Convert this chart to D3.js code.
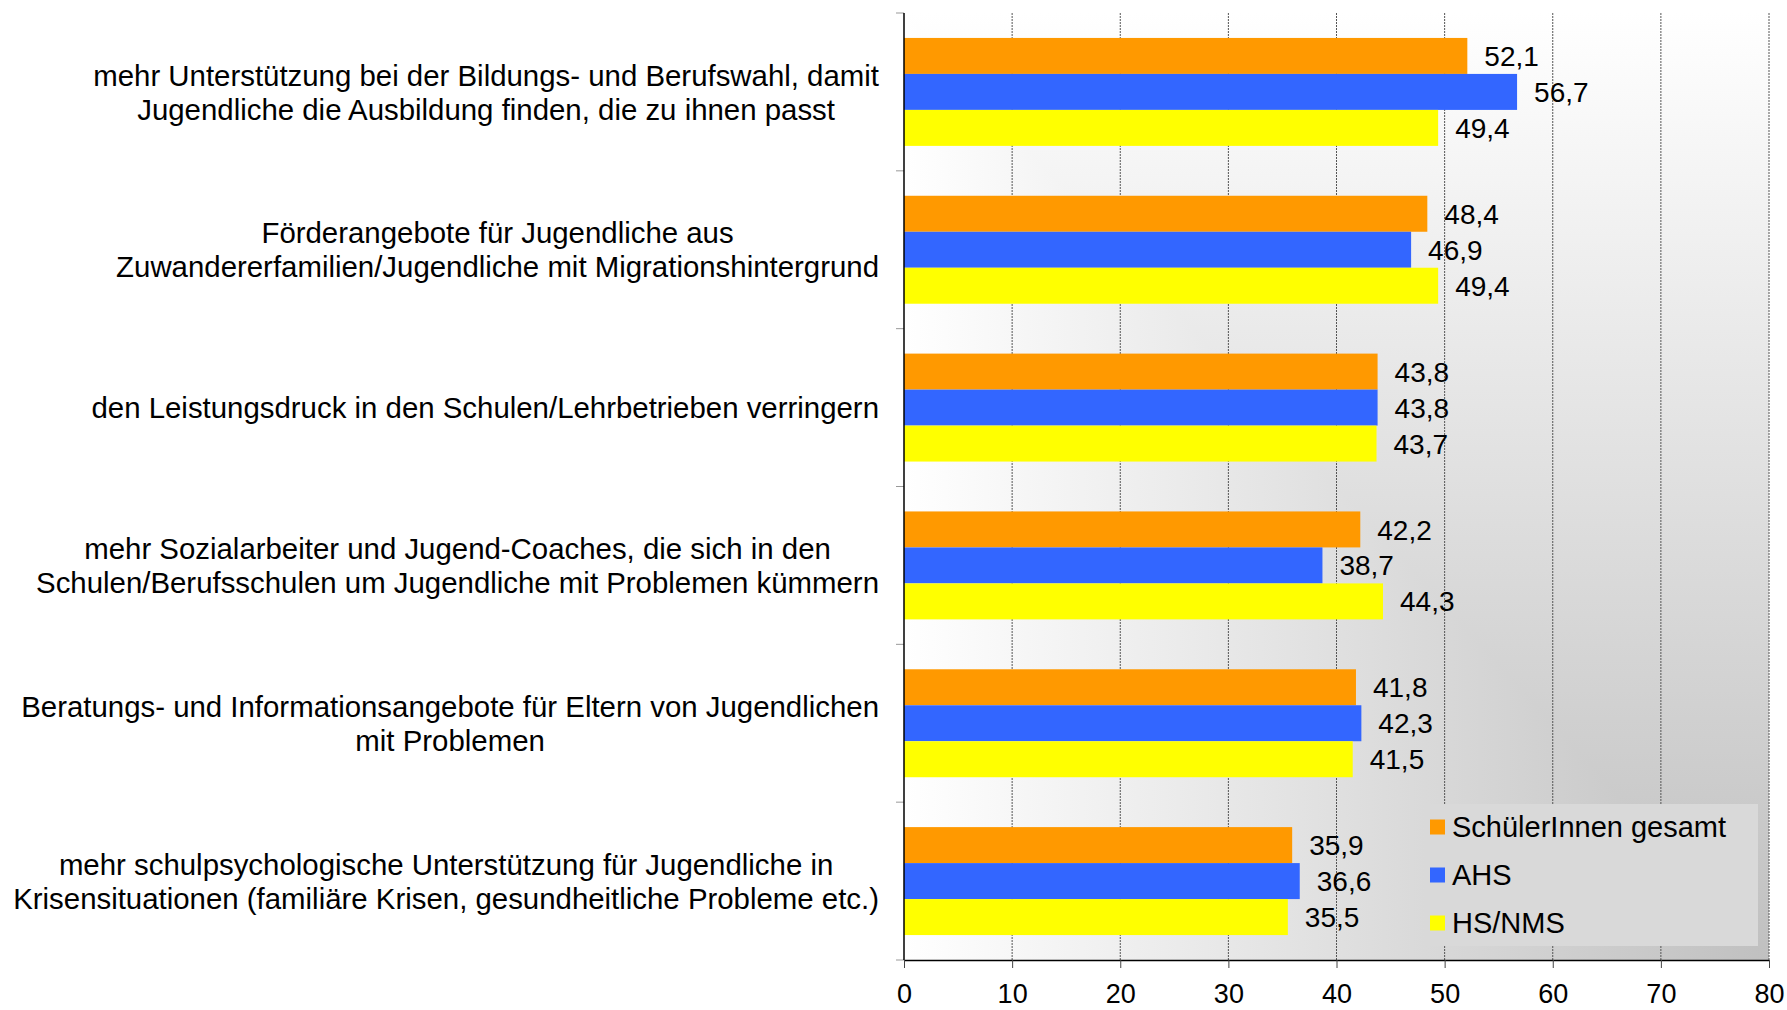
<!DOCTYPE html>
<html lang="de">
<head>
	<meta charset="utf-8"/>
	<title>Maßnahmen für Jugendliche</title>
	<script src="https://d3js.org/d3.v7.min.js"></script>
	<style>
	body { margin: 0; background: #fff; }
	text { font-family: "Liberation Sans", Arial, sans-serif; fill: #000; }
	.grid line { stroke: #555; stroke-width: 1; stroke-dasharray: 2,1; }
	</style>
</head>
<body>
<svg id="chart" width="1787" height="1010"></svg>
<script>
// categories, each one split in its lines
var categories = [
	["mehr Unterstützung bei der Bildungs- und Berufswahl, damit", "Jugendliche die Ausbildung finden, die zu ihnen passt"],
	["Förderangebote für Jugendliche aus", "Zuwandererfamilien/Jugendliche mit Migrationshintergrund"],
	["den Leistungsdruck in den Schulen/Lehrbetrieben verringern"],
	["mehr Sozialarbeiter und Jugend-Coaches, die sich in den", "Schulen/Berufsschulen um Jugendliche mit Problemen kümmern"],
	["Beratungs- und Informationsangebote für Eltern von Jugendlichen", "mit Problemen"],
	["mehr schulpsychologische Unterstützung für Jugendliche in", "Krisensituationen (familiäre Krisen, gesundheitliche Probleme etc.)"]
];
var seriesNames = ["SchülerInnen gesamt", "AHS", "HS/NMS"];
var seriesColors = ["#ff9900", "#3366ff", "#ffff00"];
var gesamt = [52.1, 48.4, 43.8, 42.2, 41.8, 35.9];
var ahs    = [56.7, 46.9, 43.8, 38.7, 42.3, 36.6];
var hsnms  = [49.4, 49.4, 43.7, 44.3, 41.5, 35.5];
var xTicks = [0, 10, 20, 30, 40, 50, 60, 70, 80];

var values = [gesamt, ahs, hsnms];
var fmt = function(v) { return d3.format(".1f")(v).replace(".", ","); };

var svg = d3.select("#chart");
var pLeft = 904, pRight = 1769, pTop = 13, pBottom = 960;

var x = d3.scaleLinear().domain([0, 80]).range([pLeft, pRight]);
var y = d3.scaleBand()
	.domain(d3.range(categories.length))
	.range([pTop, pBottom])
	.paddingInner(0.316)
	.paddingOuter(0.158);
var ys = d3.scaleBand().domain(d3.range(seriesNames.length)).range([0, y.bandwidth()]);

// background: two gradients, the lighter one wins -> grey only towards bottom right
var defs = svg.append("defs");
var gh = defs.append("linearGradient").attr("id", "gh").attr("x1", "0%").attr("y1", "0%").attr("x2", "100%").attr("y2", "0%");
gh.append("stop").attr("offset", "0%").attr("stop-color", "#ffffff");
gh.append("stop").attr("offset", "100%").attr("stop-color", "#c0c0c0");
var gv = defs.append("linearGradient").attr("id", "gv").attr("x1", "0%").attr("y1", "0%").attr("x2", "0%").attr("y2", "100%");
gv.append("stop").attr("offset", "0%").attr("stop-color", "#ffffff");
gv.append("stop").attr("offset", "100%").attr("stop-color", "#c0c0c0");

var bg = svg.append("g").style("isolation", "isolate");
bg.append("rect").attr("x", pLeft).attr("y", pTop).attr("width", pRight - pLeft).attr("height", pBottom - pTop).attr("fill", "url(#gh)");
bg.append("rect").attr("x", pLeft).attr("y", pTop).attr("width", pRight - pLeft).attr("height", pBottom - pTop).attr("fill", "url(#gv)")
	.style("mix-blend-mode", "lighten");

// vertical grid lines
svg.append("g").attr("class", "grid")
	.selectAll("line")
	.data(xTicks.slice(1))
	.enter().append("line")
	.attr("x1", function(d) { return x(d); })
	.attr("x2", function(d) { return x(d); })
	.attr("y1", pTop)
	.attr("y2", pBottom);

// bars
var groups = svg.append("g")
	.selectAll("g")
	.data(categories)
	.enter().append("g")
	.attr("transform", function(d, i) { return "translate(0," + y(i) + ")"; });

groups.each(function(d, i) {
	var g = d3.select(this);
	values.forEach(function(s, j) {
		g.append("rect")
			.attr("x", x(0))
			.attr("y", ys(j))
			.attr("width", x(s[i]) - x(0))
			.attr("height", ys.bandwidth())
			.attr("fill", seriesColors[j]);
		g.append("text")
			.attr("x", x(s[i]) + 17)
			.attr("y", ys(j) + ys.bandwidth() / 2)
			.attr("dy", "0.36em")
			.attr("font-size", 28)
			.text(fmt(s[i]));
	});
});

// category labels: lines centred in a block which is right aligned
var labels = svg.append("g")
	.selectAll("text")
	.data(categories)
	.enter().append("text")
	.attr("font-size", 29.4)
	.attr("text-anchor", "middle");

labels.each(function(lines, i) {
	var t = d3.select(this);
	var cy = y(i) + y.bandwidth() / 2;
	lines.forEach(function(l, k) {
		t.append("tspan")
			.attr("y", cy + (k - (lines.length - 1) / 2) * 34)
			.attr("dy", "0.36em")
			.text(l);
	});
	var w = 0;
	t.selectAll("tspan").each(function() { w = Math.max(w, this.getComputedTextLength()); });
	t.selectAll("tspan").attr("x", 879 - w / 2);
});

// axes
var xAxis = svg.append("g")
	.attr("transform", "translate(0," + pBottom + ")")
	.call(d3.axisBottom(x).tickValues(xTicks).tickSize(8).tickPadding(16).tickSizeOuter(0));
xAxis.select(".domain").attr("stroke", "#000").attr("stroke-width", 1.5);
xAxis.selectAll(".tick line").attr("stroke", "#444");
xAxis.selectAll("text").attr("font-size", 27).attr("font-family", null).attr("fill", "#000");

var bounds = d3.range(categories.length + 1).map(function(i) { return pTop + i * y.step(); });
svg.append("g")
	.selectAll("line")
	.data(bounds)
	.enter().append("line")
	.attr("x1", pLeft - 8).attr("x2", pLeft)
	.attr("y1", function(d) { return d; }).attr("y2", function(d) { return d; })
	.attr("stroke", "#999").attr("stroke-width", 1);
svg.append("line")
	.attr("x1", pLeft).attr("x2", pLeft).attr("y1", pTop).attr("y2", pBottom)
	.attr("stroke", "#000").attr("stroke-width", 1.5);

// legend
var legend = svg.append("g").attr("transform", "translate(1425,804)");
legend.append("rect").attr("width", 333).attr("height", 142).attr("fill", "#d9d9d9");
var item = legend.selectAll("g.item")
	.data(seriesNames)
	.enter().append("g")
	.attr("class", "item")
	.attr("transform", function(d, i) { return "translate(5," + (23 + i * 48) + ")"; });
item.append("rect").attr("y", -7.5).attr("width", 15).attr("height", 15)
	.attr("fill", function(d, i) { return seriesColors[i]; });
item.append("text").attr("x", 22).attr("dy", "0.36em").attr("font-size", 29)
	.text(function(d) { return d; });
</script>
</body>
</html>
